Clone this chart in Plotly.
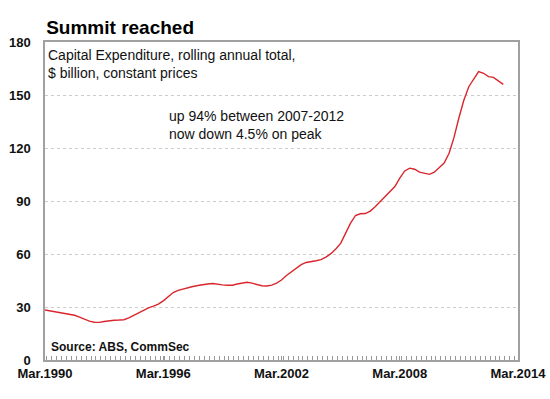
import plotly.graph_objects as go
import pandas as pd

# Quarterly capital expenditure, rolling annual total, $ billion (Mar.1990 - Jun.2013)
start_quarter = "1990-03-01"
capex = [
    28.3, 27.8, 27.3, 27.0, 26.6, 26.0, 25.3, 24.3,
    23.0, 22.0, 21.4, 21.3, 21.8, 22.3, 22.5, 22.6,
    22.8, 23.8, 25.2, 26.8, 28.3, 29.5, 30.5, 31.6,
    33.5, 36.0, 38.2, 39.4, 40.2, 41.0, 41.6, 42.2,
    42.8, 43.0, 43.3, 42.8, 42.5, 42.3, 42.3, 43.0,
    43.6, 44.0, 43.5, 42.7, 42.0, 41.9, 42.4, 43.5,
    45.3, 47.8, 50.0, 52.2, 54.0, 55.2, 55.5, 56.2,
    56.8, 58.2, 60.2, 62.8, 66.0, 71.5, 77.5, 81.8,
    82.8, 82.9, 84.3, 86.8, 89.6, 93.0, 95.5, 98.2,
    103.0, 107.0, 108.6, 108.0, 106.3, 105.6, 105.1, 106.3,
    108.8, 111.5, 117.0, 126.0, 137.0, 147.0, 154.7, 159.0,
    163.3, 162.3, 160.4, 160.0, 158.2, 156.0,
]
quarters = pd.date_range(start_quarter, periods=len(capex), freq="3MS")

y_ticks = [0, 30, 60, 90, 120, 150, 180]
x_range = ["1990-03-01", "2014-03-01"]

FONT = "Liberation Sans, Arial, sans-serif"

fig = go.Figure()
fig.add_trace(go.Scatter(
    x=quarters, y=capex, mode="lines",
    line=dict(color="#d9262c", width=1.4),
    showlegend=False, hoverinfo="skip",
))

fig.update_layout(
    width=550, height=399,
    margin=dict(l=45, r=32, t=42, b=39),
    paper_bgcolor="white", plot_bgcolor="white",
    font=dict(family=FONT, color="#111111"),
    title=dict(text="<b>Summit reached</b>", x=0.084, xref="container", xanchor="left",
               y=0.932, yref="container", yanchor="middle",
               font=dict(size=19, family=FONT, color="black")),
    xaxis=dict(
        type="date", range=x_range, automargin=False,
        tick0="1990-03-01", dtick="M72", tickformat="%b.%Y",
        ticks="inside", ticklen=4, tickcolor="#999999",
        minor=dict(dtick="M3", ticks="inside", ticklen=4, tickcolor="#999999", showgrid=False),
        showline=True, linecolor="#a0a0a0", linewidth=1.5, mirror=True,
        showgrid=False, zeroline=False, ticklabelstandoff=1,
        tickfont=dict(size=13, family=FONT, color="#111111", weight="bold"),
        fixedrange=True,
    ),
    yaxis=dict(
        range=[0, 180], tickvals=y_ticks, automargin=False,
        showline=True, linecolor="#a0a0a0", linewidth=1.5, mirror=True,
        showgrid=True, gridcolor="#cccccc", griddash="dot", gridwidth=1,
        zeroline=False, ticks="", ticklabelstandoff=10,
        tickfont=dict(size=13, family=FONT, color="#111111", weight="bold"),
        fixedrange=True,
    ),
    annotations=[
        dict(text="Capital Expenditure, rolling annual total,<br>$ billion, constant prices",
             x=0.003, y=0.99, xref="paper", yref="paper", xanchor="left", yanchor="top",
             align="left", showarrow=False, font=dict(size=14, family=FONT, color="#111111")),
        dict(text="up 94% between 2007-2012<br>now down 4.5% on peak",
             x=0.258, y=0.798, xref="paper", yref="paper", xanchor="left", yanchor="top",
             align="left", showarrow=False, font=dict(size=14, family=FONT, color="#111111")),
        dict(text="<b>Source: ABS, CommSec</b>",
             x=0.008, y=0.012, xref="paper", yref="paper", xanchor="left", yanchor="bottom",
             align="left", showarrow=False, font=dict(size=12, family=FONT, color="#111111")),
    ],
)

fig.write_html("out.html", post_script="document.body.style.margin='0';",
               config={"displayModeBar": False})
